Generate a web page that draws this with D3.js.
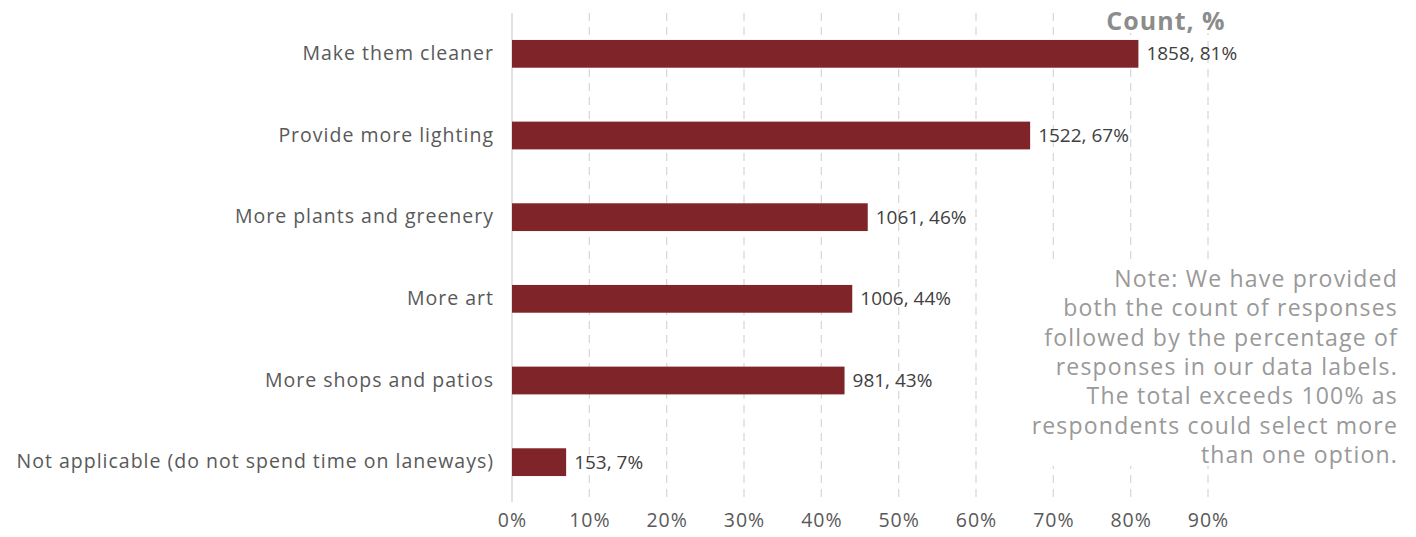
<!DOCTYPE html>
<html><head><meta charset="utf-8">
<script src="https://cdn.jsdelivr.net/npm/d3@7"></script>
<style>body{margin:0;background:#fff}svg{display:block}</style>
</head><body>
<svg id="c" width="1416" height="537"></svg>
<script>
const categories = ["Make them cleaner","Provide more lighting","More plants and greenery","More art","More shops and patios","Not applicable (do not spend time on laneways)"];
const counts = [1858,1522,1061,1006,981,153];
const percents = [81,67,46,44,43,7];
const ticks = [0,10,20,30,40,50,60,70,80,90];
const title = "Count, %";
const noteLines = ["Note: We have provided","both the count of responses","followed by the percentage of","responses in our data labels.","The total exceeds 100% as","respondents could select more","than one option."];

const font = "'Open Sans', 'Noto Sans', sans-serif";
const svg = d3.select("#c");
const x = d3.scaleLinear().domain([0,90]).range([512,1208]);
const y = d3.scaleBand().domain(categories).range([13,503]).paddingInner(0.66).paddingOuter(0.33);

svg.append("g").selectAll("line").data(ticks.filter(t=>t>0)).join("line")
  .attr("x1",d=>x(d)).attr("x2",d=>x(d)).attr("y1",13).attr("y2",502)
  .attr("stroke","#d9d9d9").attr("stroke-width",1.3).attr("stroke-dasharray","8,6");
svg.append("line").attr("x1",x(0)).attr("x2",x(0)).attr("y1",13).attr("y2",502)
  .attr("stroke","#d9d9d9").attr("stroke-width",1.5);

const xAxis = d3.axisBottom(x).tickValues(ticks).tickFormat(d=>d+"%").tickSize(0).tickPadding(0);
const gx = svg.append("g").attr("transform","translate(0,513)").call(xAxis);
gx.select(".domain").remove();
gx.selectAll("text").attr("font-family",font).attr("font-size",19.5).attr("letter-spacing",1).attr("fill","#595959");

const yAxis = d3.axisLeft(y).tickSize(0).tickPadding(18);
const gy = svg.append("g").attr("transform",`translate(${x(0)},0)`).call(yAxis);
gy.select(".domain").remove();
gy.selectAll("text").attr("font-family",font).attr("font-size",19.5).attr("letter-spacing",1).attr("fill","#595959");

svg.append("g").selectAll("rect").data(categories).join("rect")
  .attr("x",x(0)).attr("y",d=>y(d)).attr("height",y.bandwidth())
  .attr("width",(d,i)=>x(percents[i])-x(0)).attr("fill","#7f2429");

svg.append("g").selectAll("text").data(categories).join("text")
  .attr("x",(d,i)=>x(percents[i])+8).attr("y",d=>y(d)+y.bandwidth()/2).attr("dy","0.35em")
  .attr("font-family",font).attr("font-size",19).attr("fill","#404040")
  .text((d,i)=>`${counts[i]}, ${percents[i]}%`);

svg.append("rect").attr("x",1100).attr("y",0).attr("width",135).attr("height",33).attr("fill","#fff");
svg.append("text").attr("x",1166).attr("y",30).attr("text-anchor","middle")
  .attr("font-family",font).attr("font-weight","bold").attr("font-size",25).attr("letter-spacing",1).attr("fill","#8c8c8c").text(title);

svg.append("rect").attr("x",1025).attr("y",262).attr("width",385).attr("height",204).attr("fill","#fff");
svg.append("g").selectAll("text").data(noteLines).join("text")
  .attr("x",1398).attr("y",(d,i)=>287+i*29.3).attr("text-anchor","end")
  .attr("font-family",font).attr("font-size",23).attr("letter-spacing",1.2).attr("fill","#999999").text(d=>d);
</script>
</body></html>
